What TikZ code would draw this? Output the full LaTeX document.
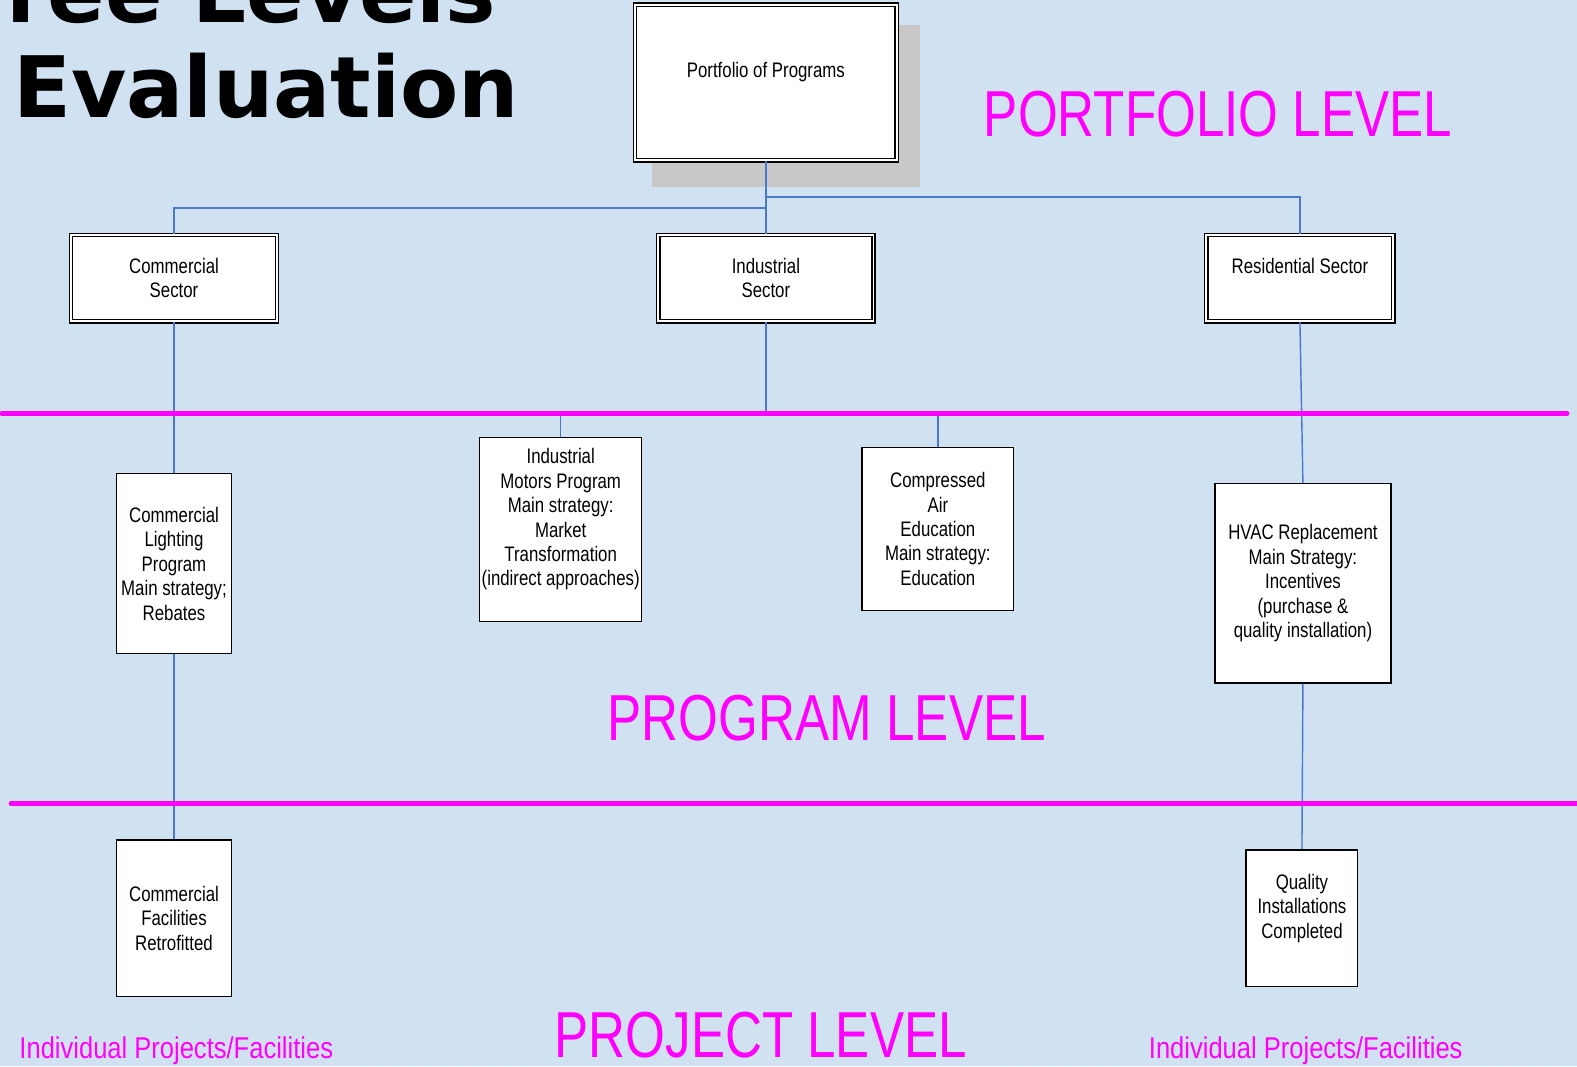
\documentclass[tikz,border=0pt]{standalone}
\usepackage{fontspec}
\setmainfont{Liberation Sans}[FakeStretch=0.80]
\newfontfamily\titlefont{DejaVu Sans}
\newfontfamily\levelfont{Liberation Sans}[FakeStretch=0.787]
\newfontfamily\sublevelfont{Liberation Sans}[FakeStretch=0.85]
\usepackage{tikz}
\usetikzlibrary{positioning}

\definecolor{bgblue}{HTML}{D0E2F2}
\definecolor{bandpink}{HTML}{FF00FF}
\definecolor{linkblue}{HTML}{4A78D0}
\definecolor{shadowgray}{HTML}{C8C8C8}
\newcommand{\boxtext}{\fontsize{11.9}{13.8}\selectfont}

\begin{document}
\begin{tikzpicture}[x=0.02cm, y=-0.02cm,
  box/.style={draw=black, line width=0.8pt, fill=white, align=center, inner sep=0pt, font=\boxtext},
  dbox/.style={box, double=white, double distance=1.1pt, line width=0.75pt},
  link/.style={draw=linkblue, line width=0.8pt},
  band/.style={draw=bandpink, line width=2.8pt, line cap=round},
  lvl/.style={text=bandpink, anchor=base west, inner sep=0pt, font={\levelfont\fontsize{36.8}{40}\selectfont}},
  sublvl/.style={text=bandpink, anchor=base west, inner sep=0pt, font={\sublevelfont\fontsize{17}{20}\selectfont}}]
\useasboundingbox (0,0) rectangle (1568,1060);
\fill[bgblue] (0,0) rectangle (1568,1060);
\clip (0,0) rectangle (1568,1060);

% title, cut at the page edge
\node[anchor=base east, inner sep=0pt, font={\titlefont\bfseries\fontsize{48}{52}\selectfont}] (title1) at (494,22) {Three Levels};
\node[anchor=base west, inner sep=0pt, font={\titlefont\bfseries\fontsize{48}{52}\selectfont}] (title2) at (13,117) {Evaluation};

% portfolio box with its shadow
\fill[shadowgray] (648,25) rectangle (915,186);
\node[dbox, minimum width=5.2cm, minimum height=3.1cm] (port) at (761.5,82) {Portfolio of Programs\\~};

% sectors
\node[dbox, minimum width=4.1cm, minimum height=1.72cm] (comsec) at (173,276.5) {Commercial\\Sector};
\node[dbox, minimum width=4.28cm, minimum height=1.72cm] (indsec) at (761.5,276.5) {Industrial\\Sector};
\node[dbox, minimum width=3.72cm, minimum height=1.72cm] (ressec) at (1292.5,276.5) {Residential Sector\\~};

% programs
\node[box, minimum width=2.28cm, minimum height=3.58cm] (comlight) at (173,560.5) {Commercial\\Lighting\\Program\\Main strategy;\\Rebates};
\node[box, minimum width=3.22cm, minimum height=3.66cm] (motors) at (557.5,526.5) {Industrial\\Motors Program\\Main strategy:\\Market\\Transformation\\(indirect approaches)\\~};
\node[box, minimum width=3.02cm, minimum height=3.24cm] (air) at (932.5,526) {Compressed\\Air\\Education\\Main strategy:\\Education};
\node[box, minimum width=3.5cm, minimum height=3.96cm] (hvac) at (1295.5,580) {HVAC Replacement\\Main Strategy:\\Incentives\\(purchase \&\\quality installation)};

% projects
\node[box, minimum width=2.28cm, minimum height=3.12cm] (comfac) at (173,913) {Commercial\\Facilities\\Retrofitted};
\node[box, minimum width=2.22cm, minimum height=2.72cm] (quality) at (1294.5,913) {Quality\\Installations\\Completed\\~};

% connectors
\coordinate (splitL) at (761.5,207);
\coordinate (splitR) at (761.5,196);
\coordinate (bus) at (761.5,411);
\draw[link] (port.south) -- (indsec.north);
\draw[link] (splitL) -| (comsec.north);
\draw[link] (splitR) -| (ressec.north);
\draw[link] (comsec.south) -- (comlight.north);
\draw[link] (indsec.south) -- (bus);
\draw[link] (motors.north) |- (bus) -| (air.north);
\draw[link] (ressec.south) -- (hvac.north);
\draw[link] (comlight.south) -- (comfac.north);
\draw[link] (hvac.south) -- (quality.north);

% level borders
\draw[band] (2,411) -- (1558,411);
\draw[band] (11,799) -- (1580,799);

% level labels
\node[lvl] (lvlport) at (978,136) {PORTFOLIO LEVEL};
\node[lvl] (lvlprog) at (604,736) {PROGRAM LEVEL};
\node[lvl] (lvlproj) at (551,1051) {PROJECT LEVEL};
\node[sublvl] (projL) at (19,1052) {Individual Projects/Facilities};
\node[sublvl] (projR) at (1142,1052) {Individual Projects/Facilities};
\end{tikzpicture}
\end{document}
